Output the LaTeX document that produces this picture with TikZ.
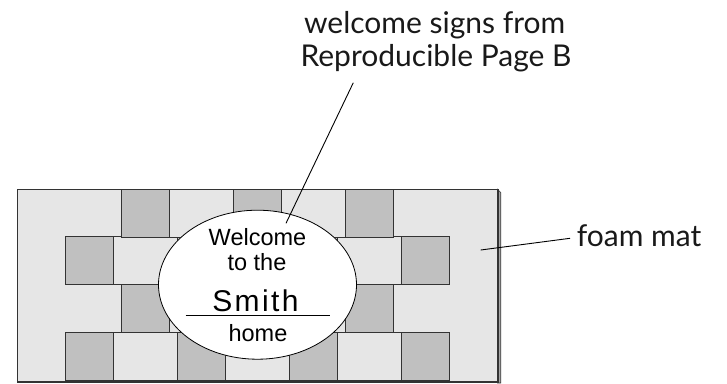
\documentclass[tikz,border=0pt]{standalone}
\usepackage{fontspec}
\usetikzlibrary{shapes.geometric}
\setmainfont{Liberation Sans}
\newfontfamily\labelfont{Lato}
\newfontfamily\smithfont[LetterSpace=8]{Liberation Sans}
\definecolor{matbg}{HTML}{E6E6E6}
\definecolor{tiledark}{HTML}{C0C0C0}
\definecolor{edge}{HTML}{333333}
\begin{document}
\begin{tikzpicture}[x=1pt,y=-1pt,
  darktile/.style={fill=tiledark,draw=edge,line width=0.9pt},
  lighttile/.style={fill=matbg,draw=edge,line width=0.9pt},
  leader/.style={draw=black,line width=0.9pt},
  lbl/.style={font=\labelfont\fontsize{30}{33}\selectfont,inner sep=0pt,text=black!90},
  signtxt/.style={font=\fontsize{23.5}{26}\selectfont,inner sep=0pt}]
\useasboundingbox (0,0) rectangle (727,383);
% mat shadow and mat
\fill[gray!70,draw=edge,line width=0.6pt] (497.3,189) -- (500.7,192.5) -- (500.7,383) -- (497.3,383) -- cycle;
\node[fill=matbg,draw=edge,line width=1pt,minimum width=480.3pt,minimum height=192pt,inner sep=0pt,anchor=north west] (mat) at (17,189) {};
% rows 2 and 4
\foreach \y in {236.7,332.7}{
  \foreach \x in {65.3,177.3,289.3,401.3}{
    \draw[darktile] (\x,\y) rectangle ++(48,48);
  }
  \foreach \x in {113.3,225.3,337.3}{
    \draw[lighttile] (\x,\y) rectangle ++(64,48);
  }
}
% rows 1 and 3
\foreach \y in {189,284.7}{
  \foreach \x in {121.3,233.3,345.3}{
    \draw[darktile] (\x,\y) rectangle ++(48,48);
  }
  \foreach \x in {169.3,281.3}{
    \draw[lighttile] (\x,\y) rectangle ++(64,48);
  }
}
\draw[edge,line width=1pt] (mat.north west) rectangle (mat.south east);
% sign
\node[ellipse,draw=black,fill=white,line width=0.8pt,minimum width=198pt,minimum height=149pt,inner sep=0pt] (sign) at (257.5,284.7) {};
\node[signtxt,anchor=base] (w1) at (257.5,245.5) {Welcome};
\node[signtxt,anchor=base] (w2) at (257,270) {to the};
\node[font=\smithfont\fontsize{30}{34}\selectfont,inner sep=0pt,anchor=base] (smith) at (255.5,311) {Smith};
\coordinate (ruleL) at (185.7,315.5);
\coordinate (ruleR) at (330,315.5);
\draw[black,line width=0.8pt] (ruleL) -- (ruleR);
\node[signtxt,anchor=base] (w3) at (258,341.5) {home};
% labels
\node[lbl,anchor=base] (signlbl) at (434.7,33) {welcome signs from};
\node[lbl,anchor=base] (signlbl2) at (436,66) {Reproducible Page B};
\coordinate (signpt) at (286,223.3);
\draw[leader] (353.3,82.7) -- (signpt);
\node[lbl,anchor=base west] (matlbl) at (576.7,246) {foam mat};
\coordinate (matpt) at (480.7,250);
\draw[leader] (570,238.3) -- (matpt);
\end{tikzpicture}
\end{document}
